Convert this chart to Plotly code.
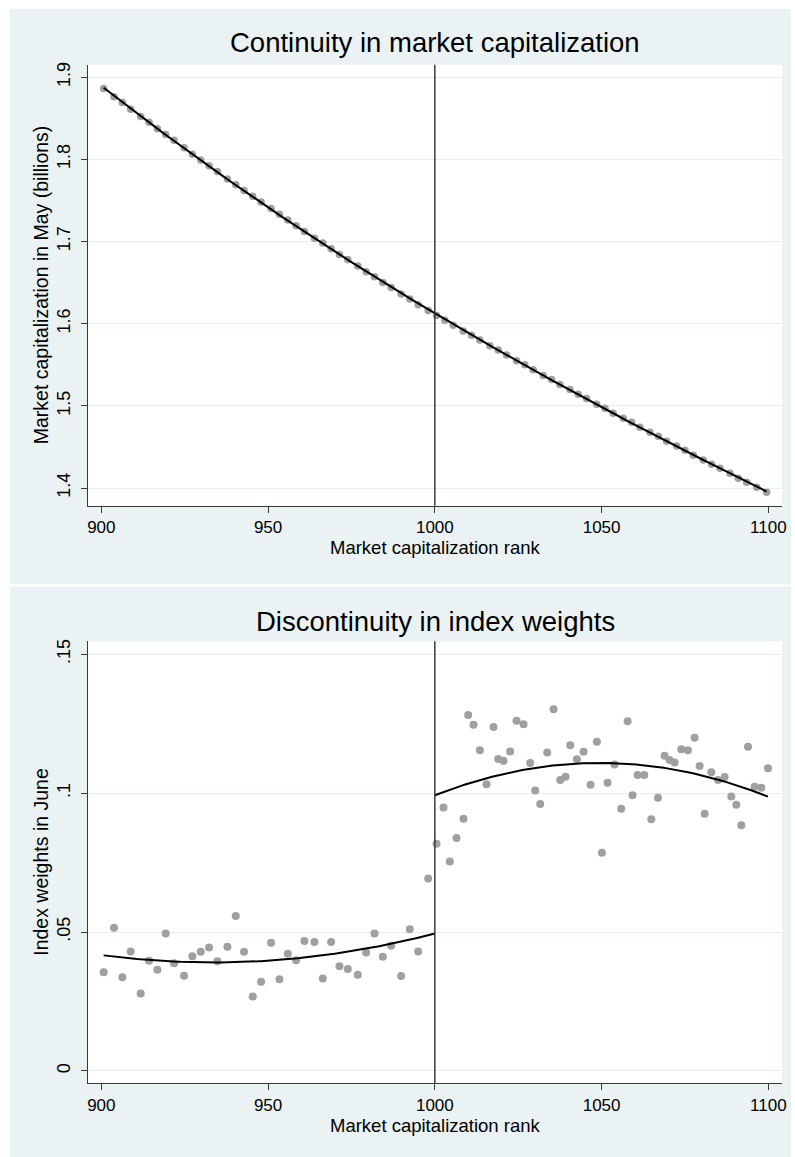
import numpy as np
import plotly.graph_objects as go

# ---------------- data ----------------
cutoff = 1000

# Top panel: market capitalization in May (billions) by rank bin
rank_cap = [900.7, 903.8, 906.3, 908.8, 911.8, 914.3, 916.8, 919.3, 921.8, 924.8,
            927.3, 929.8, 932.3, 934.8, 937.8, 940.3, 942.8, 945.4, 947.9, 950.9,
            953.4, 955.9, 958.4, 960.9, 963.9, 966.4, 968.9, 971.4, 973.9, 976.9,
            979.4, 981.9, 984.4, 986.9, 989.9, 992.5, 995.0, 998.0,
            1000.5, 1003.0, 1005.5, 1008.5, 1011.0, 1013.5, 1016.5, 1019.0, 1021.5, 1024.5,
            1027.0, 1029.5, 1032.5, 1035.0, 1037.5, 1040.5, 1043.0, 1045.5, 1048.5, 1051.0,
            1053.5, 1056.5, 1059.0, 1061.5, 1064.5, 1067.0, 1069.5, 1072.5, 1075.0, 1077.5,
            1080.5, 1083.0, 1085.5, 1088.5, 1091.0, 1093.5, 1096.5, 1099.5]
cap = [1.886, 1.876, 1.869, 1.861, 1.852, 1.845, 1.837, 1.830, 1.823, 1.814,
       1.806, 1.799, 1.792, 1.785, 1.776, 1.769, 1.762, 1.755, 1.748, 1.740,
       1.733, 1.726, 1.719, 1.712, 1.704, 1.698, 1.691, 1.684, 1.678, 1.670,
       1.663, 1.657, 1.650, 1.644, 1.636, 1.630, 1.623, 1.616,
       1.610, 1.604, 1.598, 1.591, 1.586, 1.580, 1.573, 1.568, 1.562, 1.555,
       1.550, 1.544, 1.537, 1.532, 1.526, 1.520, 1.514, 1.509, 1.502, 1.497,
       1.491, 1.485, 1.480, 1.474, 1.468, 1.463, 1.457, 1.451, 1.446, 1.440,
       1.434, 1.429, 1.424, 1.418, 1.412, 1.407, 1.401, 1.395]

# Bottom panel: index weights in June by rank bin
rank_w = [900.7, 903.8, 906.3, 908.8, 911.8, 914.3, 916.8, 919.3, 921.8, 924.8,
          927.3, 929.8, 932.3, 934.8, 937.8, 940.3, 942.8, 945.4, 947.9, 950.9,
          953.4, 955.9, 958.4, 960.9, 963.9, 966.4, 968.9, 971.4, 973.9, 976.9,
          979.4, 981.9, 984.4, 986.9, 989.9, 992.5, 995.0, 998.0,
          1000.5, 1002.6, 1004.5, 1006.5, 1008.6, 1010.0, 1011.6, 1013.5, 1015.5, 1017.6,
          1019.0, 1020.6, 1022.6, 1024.5, 1026.6, 1028.6, 1030.1, 1031.6, 1033.7, 1035.6,
          1037.6, 1039.2, 1040.6, 1042.6, 1044.6, 1046.7, 1048.6, 1050.1, 1051.8, 1053.9,
          1055.9, 1057.8, 1059.3, 1060.8, 1062.8, 1064.9, 1066.9, 1068.9, 1070.4, 1071.9,
          1073.9, 1075.9, 1077.9, 1079.4, 1080.9, 1082.9, 1084.9, 1086.9, 1088.9, 1090.4,
          1091.9, 1093.9, 1095.9, 1097.9, 1099.9]
weight = [0.0355, 0.0515, 0.0337, 0.0430, 0.0279, 0.0397, 0.0364, 0.0495, 0.0388, 0.0343,
          0.0413, 0.0429, 0.0444, 0.0395, 0.0447, 0.0558, 0.0429, 0.0268, 0.0321, 0.0461,
          0.0330, 0.0422, 0.0398, 0.0468, 0.0464, 0.0333, 0.0464, 0.0377, 0.0367, 0.0346,
          0.0426, 0.0495, 0.0411, 0.0451, 0.0342, 0.0510, 0.0430, 0.0693,
          0.0818, 0.0948, 0.0754, 0.0838, 0.0908, 0.1281, 0.1246, 0.1154, 0.1032, 0.1238,
          0.1123, 0.1116, 0.1150, 0.1260, 0.1248, 0.1108, 0.1009, 0.0961, 0.1146, 0.1302,
          0.1047, 0.1059, 0.1172, 0.1122, 0.1149, 0.1030, 0.1185, 0.0785, 0.1037, 0.1103,
          0.0944, 0.1258, 0.0992, 0.1065, 0.1065, 0.0906, 0.0983, 0.1134, 0.1119, 0.1110,
          0.1158, 0.1154, 0.1199, 0.1097, 0.0926, 0.1075, 0.1047, 0.1058, 0.0988, 0.0958,
          0.0884, 0.1167, 0.1023, 0.1019, 0.1089]

x_ticks = [900, 950, 1000, 1050, 1100]
cap_ticks = [1.4, 1.5, 1.6, 1.7, 1.8, 1.9]
cap_ticktext = ["1.4", "1.5", "1.6", "1.7", "1.8", "1.9"]
w_ticks = [0, 0.05, 0.10, 0.15]
w_ticktext = ["0", ".05", ".1", ".15"]

# ---------------- styling ----------------
REF_W, H = 795, 1157        # reference canvas (layout positions are given in these pixels)
W = 801                     # layout width (small horizontal compensation)
BG = "#EAF2F3"
GRID = "#E4EDEF"
MARK = "#A0A0A0"
AX = "#3A3A3A"
FONT = "Liberation Sans, Arial, Helvetica, sans-serif"

def px(x):
    return x / REF_W

def py(y):
    return 1 - y / H

fig = go.Figure()

# top panel points + fit
rc = np.array(rank_cap)
cp = np.array(cap)
fig.add_trace(go.Scatter(x=rc, y=cp, mode="markers", xaxis="x", yaxis="y",
                         marker=dict(color=MARK, size=7.5), showlegend=False))
c3 = np.polyfit(rc, cp, 3)
xs = np.linspace(rc.min(), rc.max(), 200)
fig.add_trace(go.Scatter(x=xs, y=np.polyval(c3, xs), mode="lines", xaxis="x", yaxis="y",
                         line=dict(color="black", width=2), showlegend=False))

# bottom panel points + quadratic fits on each side
rw = np.array(rank_w)
wt = np.array(weight)
fig.add_trace(go.Scatter(x=rw, y=wt, mode="markers", xaxis="x2", yaxis="y2",
                         marker=dict(color=MARK, size=8), showlegend=False))
left = rw < cutoff
right = ~left
cl = np.polyfit(rw[left], wt[left], 2)
cr = np.polyfit(rw[right], wt[right], 2)
xl = np.linspace(rw[left].min(), cutoff, 100)
xr = np.linspace(cutoff, rw[right].max(), 100)
fig.add_trace(go.Scatter(x=xl, y=np.polyval(cl, xl), mode="lines", xaxis="x2", yaxis="y2",
                         line=dict(color="black", width=2), showlegend=False))
fig.add_trace(go.Scatter(x=xr, y=np.polyval(cr, xr), mode="lines", xaxis="x2", yaxis="y2",
                         line=dict(color="black", width=2), showlegend=False))

# plot areas (reference pixels)
PL, PR = 87, 781
T_TOP, T_BOT = 62, 504
B_TOP, B_BOT = 640, 1083

xaxis_common = dict(range=[896.0, 1104.1], tickvals=x_ticks, ticks="outside", ticklen=6,
                    tickwidth=1, tickcolor=AX, showline=True, linecolor=AX, linewidth=1,
                    showgrid=False, zeroline=False, ticklabelstandoff=0,
                    tickfont=dict(family=FONT, size=17, color="black"))
yaxis_common = dict(ticks="outside", ticklen=6, tickwidth=1, tickcolor=AX, showline=True,
                    linecolor=AX, linewidth=1, showgrid=True, gridcolor=GRID, gridwidth=1,
                    zeroline=False, tickangle=-90, ticklabelstandoff=4,
                    tickfont=dict(family=FONT, size=18, color="black"))

fig.update_layout(
    width=W, height=H,
    margin=dict(l=0, r=0, t=0, b=0),
    paper_bgcolor="white", plot_bgcolor="white",
    xaxis=dict(domain=[px(PL), px(PR)], anchor="y", **xaxis_common),
    yaxis=dict(domain=[py(T_BOT), py(T_TOP)], anchor="x", range=[1.3785, 1.9149],
               tickvals=cap_ticks, ticktext=cap_ticktext, **yaxis_common),
    xaxis2=dict(domain=[px(PL), px(PR)], anchor="y2", **xaxis_common),
    yaxis2=dict(domain=[py(B_BOT), py(B_TOP)], anchor="x2", range=[-0.0044, 0.1546],
                tickvals=w_ticks, ticktext=w_ticktext, **yaxis_common),
    showlegend=False,
)

shapes = [
    dict(type="rect", xref="paper", yref="paper", x0=px(9), x1=px(790), y0=py(583), y1=py(6),
         fillcolor=BG, line=dict(width=0), layer="below"),
    dict(type="rect", xref="paper", yref="paper", x0=px(9), x1=px(790), y0=py(1157), y1=py(585),
         fillcolor=BG, line=dict(width=0), layer="below"),
    dict(type="rect", xref="paper", yref="paper", x0=px(PL), x1=px(PR), y0=py(T_BOT), y1=py(T_TOP),
         fillcolor="white", line=dict(width=0), layer="below"),
    dict(type="rect", xref="paper", yref="paper", x0=px(PL), x1=px(PR), y0=py(B_BOT), y1=py(B_TOP),
         fillcolor="white", line=dict(width=0), layer="below"),
    dict(type="line", xref="x", yref="y domain", x0=cutoff, x1=cutoff, y0=0, y1=1,
         line=dict(color=AX, width=1.5)),
    dict(type="line", xref="x2", yref="y2 domain", x0=cutoff, x1=cutoff, y0=0, y1=1,
         line=dict(color=AX, width=1.5)),
]
fig.update_layout(shapes=shapes)

def ann(text, x, y, size, angle=0):
    return dict(text=text, x=px(x), y=py(y), xref="paper", yref="paper", showarrow=False,
                xanchor="center", yanchor="middle", textangle=angle,
                font=dict(family=FONT, size=size, color="black"))

fig.update_layout(annotations=[
    ann("Continuity in market capitalization", 434, 40, 27.5),
    ann("Market capitalization rank", 434, 546, 18.5),
    ann("Market capitalization in May (billions)", 40, 283, 19.5, -90),
    ann("Discontinuity in index weights", 434, 620, 27.5),
    ann("Market capitalization rank", 434, 1125, 18.5),
    ann("Index weights in June", 40, 861, 19.5, -90),
])

# remove the default page margin / scrollbars so the figure sits at the page origin
fig.write_html(
    "out.html",
    config={"displayModeBar": False},
    post_script="document.body.style.margin='0';document.documentElement.style.overflow='hidden';",
)
